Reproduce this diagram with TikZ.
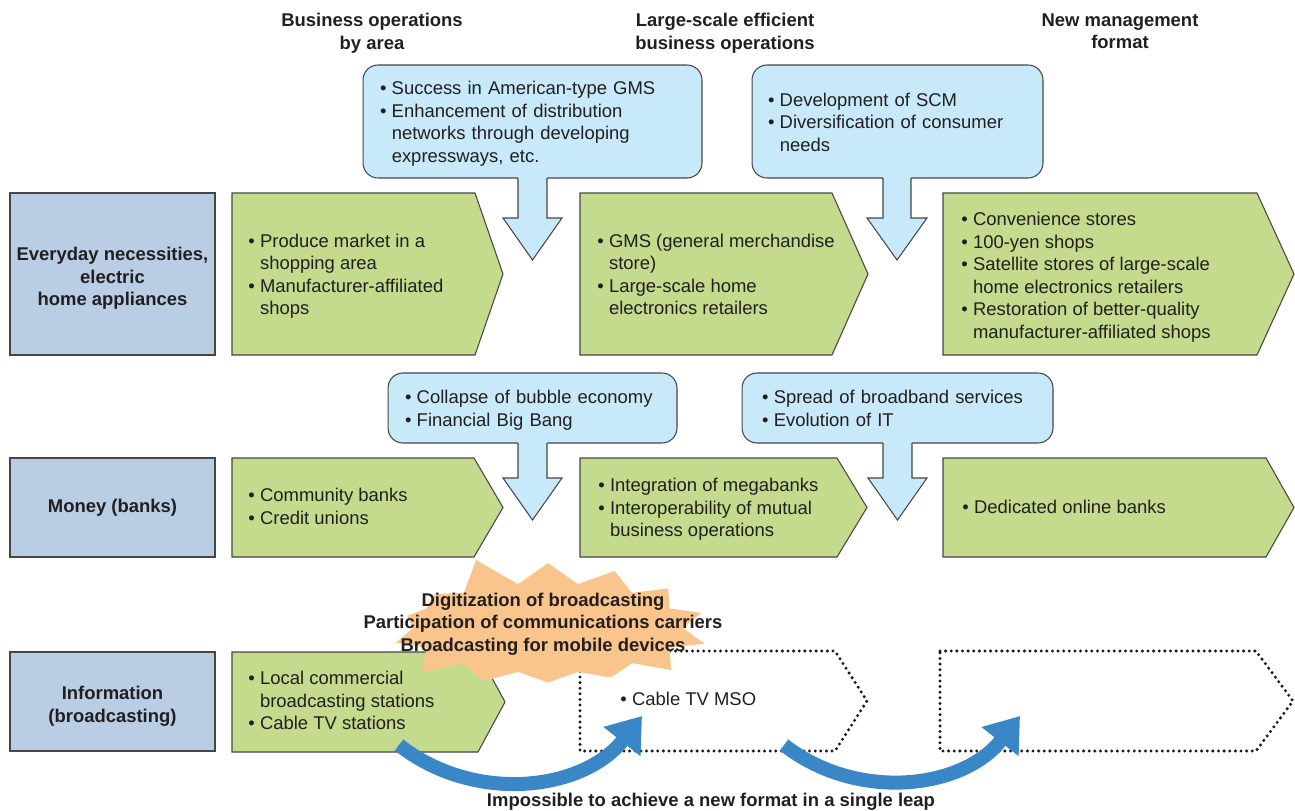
\documentclass[tikz,border=0pt]{standalone}
\usepackage{fontspec}
\setmainfont{Liberation Sans}
\usepackage{tikz}
\usetikzlibrary{arrows.meta,shapes.symbols,positioning}

\definecolor{ink}{RGB}{35,31,32}
\definecolor{edge}{RGB}{70,70,70}
\definecolor{catblue}{RGB}{185,205,229}
\definecolor{leafgreen}{RGB}{196,218,140}
\definecolor{skyblue}{RGB}{199,233,249}
\definecolor{burstorange}{RGB}{250,197,140}
\definecolor{leapblue}{RGB}{58,135,200}
\definecolor{dotink}{RGB}{25,25,25}

\newcommand{\bul}{\textbullet}
\newcommand{\bullist}[1]{\begin{tabular}{@{}l@{\hspace{3pt}}l@{}}\noalign{\vskip 3pt}#1\end{tabular}}
\newcommand{\catlines}[1]{\begin{tabular}{@{}c@{}}\noalign{\vskip 5.6pt}#1\end{tabular}}

\begin{document}
\begin{tikzpicture}[x=0.02cm,y=-0.02cm,
  every node/.style={font=\fontsize{10.5}{12.8}\selectfont, text=ink, inner sep=0pt},
  catbox/.style={draw=edge, line width=0.6pt, fill=catblue, minimum width=4.1cm, align=center, font=\fontsize{10.5}{12.8}\selectfont\bfseries},
  greenbox/.style={draw=edge, line width=0.6pt, fill=leafgreen},
  callbox/.style={draw=edge, line width=0.6pt, fill=skyblue, rounded corners=0.3cm, align=left},
  calledge/.style={draw=edge, line width=0.6pt},
  emptybox/.style={draw=dotink, line width=1.9pt, dash pattern=on 0pt off 3.2pt, line cap=round},
  burst/.style={starburst, fill=burstorange, starburst points=14, starburst point height=0.65cm, random starburst=5, minimum width=6.7cm, minimum height=3.1cm},
  leap/.style={draw=leapblue, line width=0.28cm, -{Triangle[width=0.9cm,length=0.65cm]}, bend right=45},
  head/.style={font=\fontsize{10.5}{12.8}\selectfont\bfseries, align=center},
  item/.style={anchor=west}
]
\useasboundingbox (0,0) rectangle (1295,811);

//titres colonnes
\node[head] (h1) at (372,33) {Business operations\\by area};
\node[head] (h2) at (725,33) {Large-scale efficient\\business operations};
\node[head] (h3) at (1120,31) {New management\\format};

//categories
\node[catbox, minimum height=3.24cm] (cat1) at (112.5,274) {\catlines{Everyday necessities,\\electric\\home appliances}};
\node[catbox, minimum height=1.98cm] (cat2) at (112.5,507.5) {Money (banks)};
\node[catbox, minimum height=1.98cm] (cat3) at (112.5,701.5) {\catlines{Information\\(broadcasting)}};

//cadres verts
\draw[greenbox] (232,193) -- (475,193) -- (503,274) -- (475,355) -- (232,355) -- cycle;
\draw[greenbox] (580,193) -- (832,193) -- (868,274) -- (832,355) -- (580,355) -- cycle;
\draw[greenbox] (943,193) -- (1257,193) -- (1294,274) -- (1257,355) -- (943,355) -- cycle;
\draw[greenbox] (232,458) -- (474,458) -- (503,507.5) -- (474,557) -- (232,557) -- cycle;
\draw[greenbox] (580,458) -- (837,458) -- (867,507.5) -- (837,557) -- (580,557) -- cycle;
\draw[greenbox] (943,458) -- (1266,458) -- (1294,507.5) -- (1266,557) -- (943,557) -- cycle;
\draw[greenbox] (232,652) -- (478,652) -- (505,702) -- (478,752) -- (232,752) -- cycle;

//cadres vides
\draw[emptybox] (580,651) -- (835,651) -- (867,701) -- (835,751) -- (580,751) -- cycle;
\draw[emptybox] (940,651) -- (1256,651) -- (1293,701) -- (1256,751) -- (940,751) -- cycle;

//textes
\node[item] (t11) at (248,274) {\bullist{\bul & Produce market in a\\ & shopping area\\ \bul & Manufacturer-affiliated\\ & shops}};
\node[item] (t12) at (597,274) {\bullist{\bul & GMS (general merchandise\\ & store)\\ \bul & Large-scale home\\ & electronics retailers}};
\node[item] (t13) at (961,275) {\bullist{\bul & Convenience stores\\ \bul & 100-yen shops\\ \bul & Satellite stores of large-scale\\ & home electronics retailers\\ \bul & Restoration of better-quality\\ & manufacturer-affiliated shops}};
\node[item] (t21) at (248,506) {\bullist{\bul & Community banks\\ \bul & Credit unions}};
\node[item] (t22) at (598,507) {\bullist{\bul & Integration of megabanks\\ \bul & Interoperability of mutual\\ & business operations}};
\node[item] (t23) at (962,506) {\bullist{\bul & Dedicated online banks}};
\node[item] (t31) at (248,700) {\bullist{\bul & Local commercial\\ & broadcasting stations\\ \bul & Cable TV stations}};
\node[item] (t32) at (620,698) {\bullist{\bul & Cable TV MSO}};

//bulles
\node[callbox, minimum height=2.26cm, inner xsep=0.34cm, text width=6.1cm] (c1) at (532.5,121.5) {\bullist{\bul & Success in American-type GMS\\ \bul & Enhancement of distribution\\ & networks through developing\\ & expressways, etc.}};
\fill[skyblue] (518,175) -- (518,218) -- (503,218) -- (532.5,260) -- (562,218) -- (547,218) -- (547,175) -- cycle;
\draw[calledge] (518,178) -- (518,218) -- (503,218) -- (532.5,260) -- (562,218) -- (547,218) -- (547,178);

\node[callbox, minimum height=2.26cm, inner xsep=0.32cm, text width=5.18cm] (c2) at (897.5,121.5) {\bullist{\bul & Development of SCM\\ \bul & Diversification of consumer\\ & needs}};
\fill[skyblue] (883,175) -- (883,218) -- (867,218) -- (897,260) -- (927,218) -- (911,218) -- (911,175) -- cycle;
\draw[calledge] (883,178) -- (883,218) -- (867,218) -- (897,260) -- (927,218) -- (911,218) -- (911,178);

\node[callbox, minimum height=1.4cm, inner xsep=0.34cm, text width=5.1cm] (c3) at (532.5,408) {\bullist{\bul & Collapse of bubble economy\\ \bul & Financial Big Bang}};
\fill[skyblue] (518,440) -- (518,478) -- (503,478) -- (532.5,520) -- (562,478) -- (547,478) -- (547,440) -- cycle;
\draw[calledge] (518,443) -- (518,478) -- (503,478) -- (532.5,520) -- (562,478) -- (547,478) -- (547,443);

\node[callbox, minimum height=1.4cm, inner xsep=0.4cm, text width=5.42cm] (c4) at (897.5,408) {\bullist{\bul & Spread of broadband services\\ \bul & Evolution of IT}};
\fill[skyblue] (883,440) -- (883,478) -- (868,478) -- (897.5,520) -- (927,478) -- (912,478) -- (912,440) -- cycle;
\draw[calledge] (883,443) -- (883,478) -- (868,478) -- (897.5,520) -- (927,478) -- (912,478) -- (912,443);

//explosion
\node[burst] (boom) at (548,628) {};
\node[head] (boomtext) at (543,624) {Digitization of broadcasting\\Participation of communications carriers\\Broadcasting for mobile devices};

//sauts
\coordinate (leapAfrom) at (399,745);
\coordinate (leapAto) at (642,716);
\coordinate (leapBfrom) at (784,745);
\coordinate (leapBto) at (1020,716);
\draw[leap] (leapAfrom) to (leapAto);
\draw[leap] (leapBfrom) to (leapBto);

\node[head] (leaptext) at (711,802) {Impossible to achieve a new format in a single leap};

\end{tikzpicture}
\end{document}
